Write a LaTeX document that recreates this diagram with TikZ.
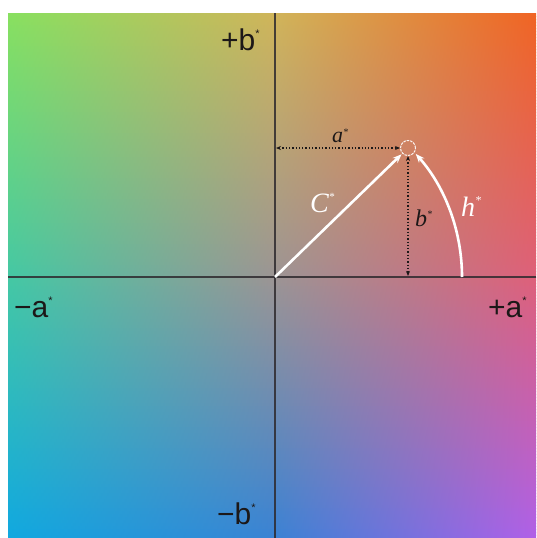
\documentclass[tikz,border=0pt]{standalone}
\usepackage{fontspec}
\setmainfont{Liberation Serif}
\newfontfamily\axfont{Liberation Sans}
\usetikzlibrary{arrows.meta}
\definecolor{TL}{HTML}{88E060}
\definecolor{TM}{HTML}{D0B45A}
\definecolor{TR}{HTML}{F06424}
\definecolor{ML}{HTML}{44C8A4}
\definecolor{MM}{HTML}{9C9494}
\definecolor{MR}{HTML}{DE607A}
\definecolor{BL}{HTML}{10A8E0}
\definecolor{BM}{HTML}{3A82D4}
\definecolor{BR}{HTML}{B060E8}
\definecolor{axcol}{HTML}{2E2A2E}
\definecolor{darklbl}{HTML}{1C1818}
\newcommand{\supast}[2]{\raisebox{#1}{\fontsize{#2}{#2}\selectfont *}}
\tikzset{
  axisline/.style={draw=axcol, line width=1.1pt, opacity=0.85},
  axlabel/.style={anchor=base west, inner sep=0pt, text=darklbl, font=\axfont\fontsize{30}{30}\selectfont},
  vec/.style={draw=white, line width=2.6pt, -{Stealth[length=9pt,width=7pt]}, shorten >=1pt},
  dimline/.style={draw=darklbl, line width=1.3pt, dotted, {Stealth[length=5pt,width=4pt]}-{Stealth[length=5pt,width=4pt]}},
  italbl/.style={anchor=base west, inner sep=0pt, font=\itshape},
  pt/.style={circle, draw=white, line width=1pt, dashed, dash pattern=on 2.5pt off 1pt, minimum size=15pt, inner sep=0pt, opacity=0.9}
}
\begin{document}
\begin{tikzpicture}[x=1pt,y=-1pt]
\useasboundingbox (0,0) rectangle (536,538);
\fill[white] (0,0) rectangle (536,538);
% background colour field
\foreach \i in {0,...,174} {
  \pgfmathsetmacro\ya{13+3*\i}
  \pgfmathsetmacro\yb{13+3*\i+3.5}
  \pgfmathsetmacro\yc{13+3*\i+1.5}
  \ifdim\yc pt<277pt
    \pgfmathtruncatemacro\p{(\yc-13)/264*100}
    \colorlet{rowL}{ML!\p!TL}\colorlet{rowM}{MM!\p!TM}\colorlet{rowR}{MR!\p!TR}
  \else
    \pgfmathtruncatemacro\p{(\yc-277)/261*100}
    \colorlet{rowL}{BL!\p!ML}\colorlet{rowM}{BM!\p!MM}\colorlet{rowR}{BR!\p!MR}
  \fi
  \fill[left color=rowL, right color=rowM] (8,\ya) rectangle (275.5,\yb);
  \fill[left color=rowM, right color=rowR] (275,\ya) rectangle (536,\yb);
}
% axes
\coordinate (O) at (275,277);
\coordinate (xl) at (8,277);
\coordinate (xr) at (536,277);
\coordinate (yt) at (275,13);
\coordinate (yb) at (275,538);
\draw[axisline] (xl) -- (xr);
\draw[axisline] (yt) -- (yb);
% axis labels
\node[axlabel] (pb) at (221,50) {+b\supast{13pt}{11}};
\node[axlabel] (ma) at (14,317) {−a\supast{13pt}{11}};
\node[axlabel] (pa) at (488,317) {+a\supast{13pt}{11}};
\node[axlabel] (mb) at (217,524) {−b\supast{13pt}{11}};
% colour point
\node[pt] (P) at (408,148) {};
\coordinate (Ya) at (276,148);
\coordinate (Xb) at (408,276);
\coordinate (H0) at (462,277);
% dimension lines
\draw[dimline] (Ya) -- (P.west);
\draw[dimline] (P.south) -- (Xb);
% chroma vector and hue arc
\draw[vec] (O) -- (P);
\draw[vec] (H0) arc[start angle=0, end angle=-41.5, radius=187];
% italic labels
\node[italbl, text=darklbl, font=\itshape\fontsize{22}{22}\selectfont] (la) at (332,142) {a\supast{7pt}{10}};
\node[italbl, text=darklbl, font=\itshape\fontsize{24}{24}\selectfont] (lb) at (415,226) {b\supast{9pt}{10}};
\node[italbl, text=white, font=\itshape\fontsize{28}{28}\selectfont] (lc) at (310,212) {C\supast{12pt}{11}};
\node[italbl, text=white, font=\itshape\fontsize{28}{28}\selectfont] (lh) at (461,216) {h\supast{12pt}{12}};
\end{tikzpicture}
\end{document}
